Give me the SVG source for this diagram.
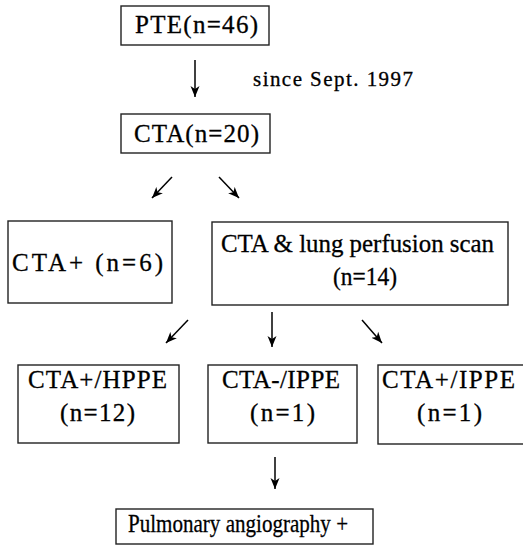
<svg xmlns="http://www.w3.org/2000/svg" width="523" height="547" viewBox="0 0 523 547">
<defs>
<marker id="ah" viewBox="0 0 12 10" refX="11" refY="5" markerWidth="12" markerHeight="10" markerUnits="userSpaceOnUse" orient="auto">
<path d="M0,0.5 L11,5 L0,9.5 L3,5 Z" fill="#000"/>
</marker>
<style>
.box{fill:#fff;stroke:#222;stroke-width:1.4}
.t{font-family:"Liberation Serif","Times New Roman",serif;font-size:25px;fill:#000;stroke:#000;stroke-width:0.3}
.s{font-size:21px}
.c{stroke:#000;stroke-width:1.5;fill:none;marker-end:url(#ah)}
</style>
</defs>
<rect width="523" height="547" fill="#fff"/>
<g id="connectors">
<line class="c" x1="195" y1="60" x2="195" y2="97"/>
<line class="c" x1="172" y1="177" x2="152" y2="198"/>
<line class="c" x1="219" y1="177" x2="239" y2="198"/>
<line class="c" x1="188" y1="320" x2="166" y2="343"/>
<line class="c" x1="272" y1="312" x2="272" y2="347"/>
<line class="c" x1="362" y1="320" x2="382" y2="343"/>
<line class="c" x1="275" y1="457" x2="275" y2="489"/>
<text class="t s" x="253" y="86" textLength="160" lengthAdjust="spacing">since Sept. 1997</text>
</g>
<g id="n-pte">
<rect class="box" x="121" y="6" width="148" height="39"/>
<text class="t" x="135" y="33" textLength="123" lengthAdjust="spacing">PTE(n=46)</text>
</g>
<g id="n-cta">
<rect class="box" x="121" y="114" width="149" height="39"/>
<text class="t" x="134" y="142" textLength="125" lengthAdjust="spacing">CTA(n=20)</text>
</g>
<g id="n-ctaplus">
<rect class="box" x="8" y="221" width="164" height="82"/>
<text class="t" x="12" y="271" textLength="151" lengthAdjust="spacing">CTA+ (n=6)</text>
</g>
<g id="n-ctalung">
<rect class="box" x="212" y="222" width="296" height="83"/>
<text class="t" x="221" y="252" textLength="273" lengthAdjust="spacingAndGlyphs">CTA &amp; lung perfusion scan</text>
<text class="t" x="333" y="285" textLength="64" lengthAdjust="spacingAndGlyphs">(n=14)</text>
</g>
<g id="n-hppe">
<rect class="box" x="18" y="365" width="161" height="78"/>
<text class="t" x="28" y="388" textLength="139" lengthAdjust="spacing">CTA+/HPPE</text>
<text class="t" x="60" y="421" textLength="75" lengthAdjust="spacing">(n=12)</text>
</g>
<g id="n-ippe-neg">
<rect class="box" x="208" y="365" width="149" height="78"/>
<text class="t" x="222" y="388" textLength="118" lengthAdjust="spacing">CTA-/IPPE</text>
<text class="t" x="250" y="421" textLength="65" lengthAdjust="spacing">(n=1)</text>
</g>
<g id="n-ippe-pos">
<rect class="box" x="378" y="365" width="150" height="79"/>
<text class="t" x="382" y="388" textLength="133" lengthAdjust="spacing">CTA+/IPPE</text>
<text class="t" x="417" y="421" textLength="65" lengthAdjust="spacing">(n=1)</text>
</g>
<g id="n-angio">
<rect class="box" x="116" y="509" width="257" height="35"/>
<text class="t" x="128" y="532" textLength="220" lengthAdjust="spacingAndGlyphs">Pulmonary angiography +</text>
</g>
</svg>
